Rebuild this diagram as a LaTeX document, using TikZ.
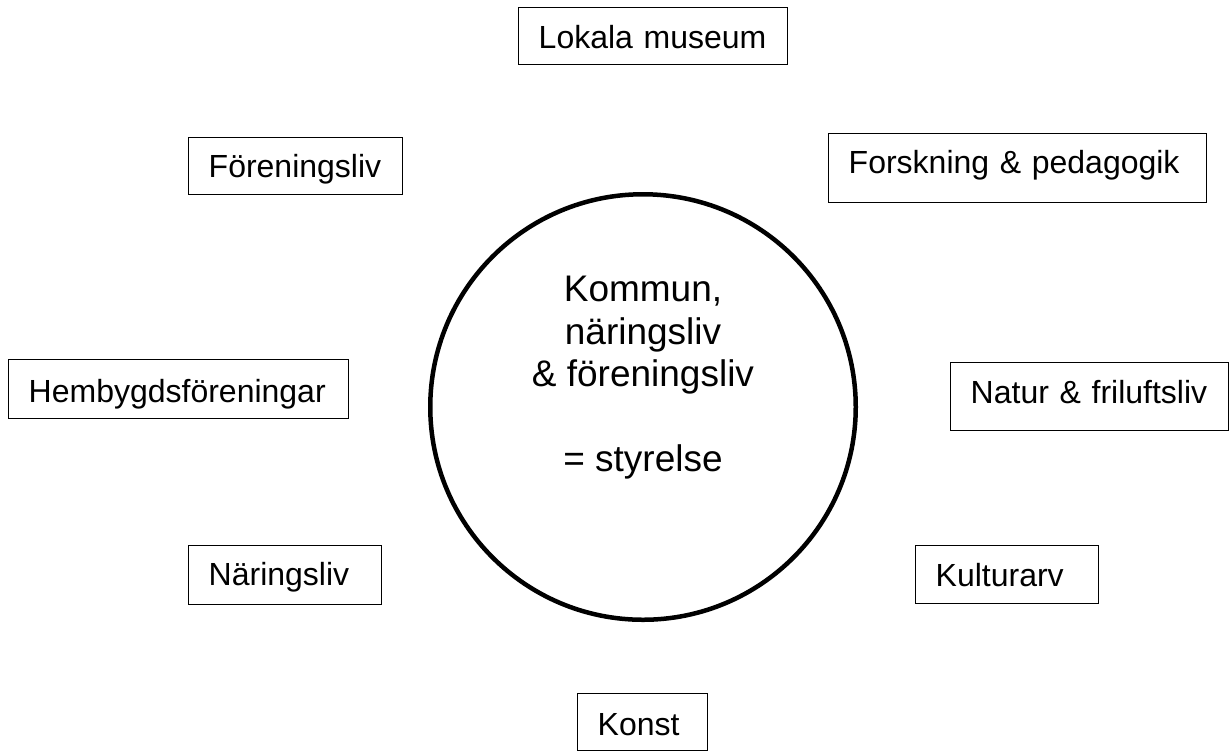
\documentclass[tikz,border=0pt]{standalone}
\usepackage{fontspec}
\setmainfont{Liberation Sans}
\begin{document}
\begin{tikzpicture}[x=0.5pt,y=-0.5pt,
  bx/.style={draw, line width=0.7pt, anchor=north west, align=left,
    inner xsep=10pt, inner ysep=4pt, font=\fontsize{16}{19}\selectfont,
    execute at begin node={\hyphenpenalty=10000}},
  ring/.style={circle, draw, line width=2.25pt, minimum size=212.75pt, inner sep=0pt},
  ctext/.style={align=center, inner sep=0pt, anchor=north,
    font=\fontsize{18.5}{21.25}\selectfont}]
\useasboundingbox (0,0) rectangle (1230,752);
\node[ring] (circ) at (643,407) {};
\node[ctext] (ctxt) at (643,276) {Kommun,\\ näringsliv\\ \& föreningsliv\\[21.25pt] = styrelse};
\node[bx, text width=114.5pt, text height=16.5pt, text depth=4pt] (lok) at (518,7) {Lokala~museum};
\node[bx, text width=87pt, text height=16pt, text depth=4.5pt] (forv) at (188,137) {Föreningsliv};
\node[bx, text width=169pt, text height=16pt, text depth=10.5pt] (fors) at (828,133) {Forskning~\&~pedagogik};
\node[bx, text width=150pt, text height=17.5pt, text depth=4pt] (hemb) at (8,359) {Hembygdsföreningar};
\node[bx, text width=119pt, text height=16.5pt, text depth=9.5pt] (natur) at (950,362) {Natur~\&~friluftsliv};
\node[bx, text width=76.5pt, text height=16pt, text depth=5.5pt] (nar) at (188,545) {Näringsliv};
\node[bx, text width=71.5pt, text height=16.5pt, text depth=4.5pt] (kult) at (915,545) {Kulturarv};
\node[bx, text width=45pt, text height=17pt, text depth=3.5pt] (konst) at (577,693) {Konst};
\end{tikzpicture}
\end{document}
